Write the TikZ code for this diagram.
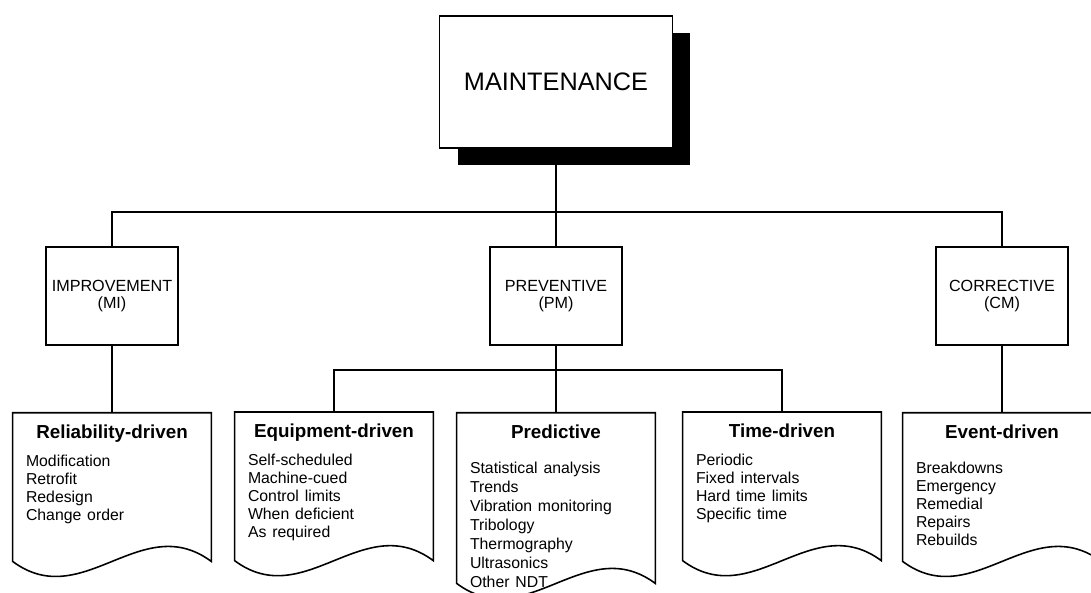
\documentclass[tikz,border=0pt]{standalone}
\usepackage{fontspec}
\setmainfont{Liberation Sans}
\usetikzlibrary{positioning,shadows}
\setlength\parindent{0pt}
\tikzset{mainbox/.style={rectangle,draw=black,fill=white,line width=0.9pt,minimum width=4.66cm,minimum height=2.64cm,font=\fontsize{14.4}{17}\selectfont,drop shadow={shadow xshift=0.36cm,shadow yshift=-0.34cm,fill=black,opacity=1}}}
\tikzset{catbox/.style={rectangle,draw=black,fill=white,line width=0.9pt,minimum width=2.64cm,minimum height=1.96cm,align=center,font=\fontsize{9.2}{9.4}\selectfont}}
\tikzset{docframe/.style={rectangle,inner sep=0pt,anchor=north,minimum width=3.96cm,minimum height=2.96cm}}
\tikzset{doctext/.style={inner sep=0pt,text width=3.44cm}}
\tikzset{link/.style={line width=0.9pt}}
\newcommand\doclist[4][10.25pt]{{\centering\fontsize{10.7}{12}\selectfont\bfseries #2\par}\vspace{#3}\fontsize{9}{#1}\selectfont #4\par}
\newcommand\docpage[1]{\draw[link] (#1.north west) -- (#1.north east) -- (#1.south east) .. controls +(-70,-52) and +(70,52) .. (#1.south west) -- cycle;}

\begin{document}
\begin{tikzpicture}[x=0.02cm,y=-0.02cm]
\useasboundingbox (0,0) rectangle (1091,592);
% top level
\node (maint) [mainbox] at (556,82) {MAINTENANCE};
\node (improve) [catbox] at (112,296) {IMPROVEMENT\\(MI)};
\node (prevent) [catbox] at (556,296) {PREVENTIVE\\(PM)};
\node (correct) [catbox] at (1002,296) {CORRECTIVE\\(CM)};
% document pages
\node (reliab) [docframe, below=1.34cm of improve] {};
\node (equip) [docframe] at (334,412) {};
\node (predict) [docframe, below=1.34cm of prevent, minimum height=3.4cm] {};
\node (timedr) [docframe] at (782,412) {};
\node (eventdr) [docframe, below=1.34cm of correct] {};
\docpage{reliab}
\docpage{equip}
\docpage{predict}
\docpage{timedr}
\docpage{eventdr}
\node (reliabtxt) [doctext, below=0.24cm of reliab.north] {\doclist{Reliability-driven}{5.3pt}{Modification\\Retrofit\\Redesign\\Change order}};
\node (equiptxt) [doctext, below=0.24cm of equip.north] {\doclist{Equipment-driven}{5.3pt}{Self-scheduled\\Machine-cued\\Control limits\\When deficient\\As required}};
\node (predicttxt) [doctext, below=0.24cm of predict.north] {\doclist[10.8pt]{Predictive}{8.8pt}{Statistical analysis\\Trends\\Vibration monitoring\\Tribology\\Thermography\\Ultrasonics\\Other NDT}};
\node (timedrtxt) [doctext, below=0.24cm of timedr.north] {\doclist{Time-driven}{5.3pt}{Periodic\\Fixed intervals\\Hard time limits\\Specific time}};
\node (eventdrtxt) [doctext, below=0.24cm of eventdr.north] {\doclist{Event-driven}{9.3pt}{Breakdowns\\Emergency\\Remedial\\Repairs\\Rebuilds}};
% connectors
\coordinate (topbus) at (556,212);
\coordinate (pmbus) at (556,370);
\draw[link] (maint.south) -- (prevent.north);
\draw[link] (improve.north) |- (topbus) -| (correct.north);
\draw[link] (improve.south) -- (reliab.north);
\draw[link] (prevent.south) -- (predict.north);
\draw[link] (equip.north) |- (pmbus) -| (timedr.north);
\draw[link] (correct.south) -- (eventdr.north);
\end{tikzpicture}
\end{document}
